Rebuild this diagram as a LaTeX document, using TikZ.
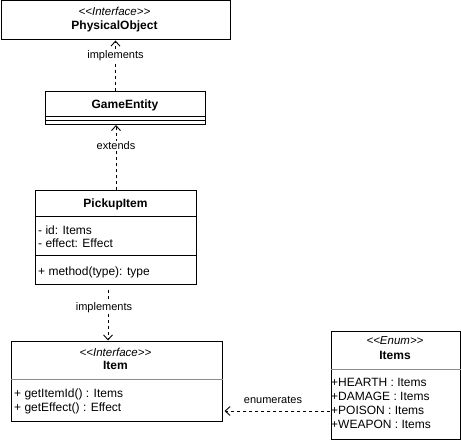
\documentclass[tikz,border=0pt]{standalone}
\usepackage{fontspec}
\setmainfont{Liberation Sans}
\usetikzlibrary{arrows.meta}
\begin{document}
\begin{tikzpicture}[x=1pt,y=-1pt,
  box/.style={draw, line width=1pt, inner sep=0pt, anchor=north west, fill=white},
  sep/.style={line width=1pt},
  gsep/.style={line width=0.8pt, draw=black!45},
  ttl/.style={font=\bfseries\fontsize{12}{14}\selectfont, anchor=base},
  stereo/.style={font=\itshape\fontsize{11.5}{14}\selectfont, anchor=base},
  mem/.style={font=\fontsize{12}{14}\selectfont, anchor=base west, inner sep=0pt},
  lbl/.style={font=\fontsize{11}{13}\selectfont, fill=white, inner sep=1pt},
  dep/.style={line width=0.8pt, dash pattern=on 3pt off 3pt, -{Straight Barb[length=5pt,width=9pt,line width=0.9pt]}}
]
\useasboundingbox (0,0) rectangle (461,441);

% PhysicalObject
\node[box, minimum width=229pt, minimum height=39pt] (phys) at (0.5,0.5) {};
\node[stereo] (physst) at (114.5,16) {<\kern0pt<Interface>\kern0pt>};
\node[ttl] (physn) at (114.5,29.5) {PhysicalObject};

% GameEntity
\node[box, minimum width=160pt, minimum height=33pt] (ge) at (45,91) {};
\node[ttl] (gen) at (125,108.5) {GameEntity};
\draw[sep] (ge.west |- 0,116.5) -- (ge.east |- 0,116.5);
\draw[sep] (ge.west |- 0,120.5) -- (ge.east |- 0,120.5);

% PickupItem
\node[box, minimum width=161pt, minimum height=94pt] (pick) at (35,190) {};
\node[ttl] (pickn) at (115.5,207.5) {PickupItem};
\draw[sep] (pick.west |- 0,217) -- (pick.east |- 0,217);
\node[mem] (pa1) at (38,234) {- id: Items};
\node[mem] (pa2) at (38,247.5) {- effect: Effect};
\draw[sep] (pick.west |- 0,255) -- (pick.east |- 0,255);
\node[mem] (pm1) at (38,276) {+ method(type): type};

% Item
\node[box, minimum width=211pt, minimum height=80pt] (item) at (10.5,340.5) {};
\node[stereo] (itemst) at (115.5,356) {<\kern0pt<Interface>\kern0pt>};
\node[ttl] (itemn) at (115.5,369.5) {Item};
\draw[gsep] (item.west |- 0,379.5) -- (item.east |- 0,379.5);
\node[mem] (im1) at (14,397) {+ getItemId() : Items};
\node[mem] (im2) at (14,411) {+ getEffect() : Effect};

% Items enum
\node[box, minimum width=129pt, minimum height=108pt] (items) at (330.5,330.5) {};
\node[stereo] (itemsst) at (395,344.5) {<\kern0pt<Enum>\kern0pt>};
\node[ttl] (itemsn) at (395,359) {Items};
\draw[gsep] (items.west |- 0,369.5) -- (items.east |- 0,369.5);
\node[mem] (e1) at (331,386.5) {+HEARTH : Items};
\node[mem] (e2) at (331,400.5) {+DAMAGE : Items};
\node[mem] (e3) at (331,414.5) {+POISON : Items};
\node[mem] (e4) at (331,428.5) {+WEAPON : Items};

% connectors
\draw[dep] (ge.north -| phys.south) -- node[lbl, pos=0.69] (l1) {implements} (phys.south);
\draw[dep] (pick.north) -- node[lbl, pos=0.68] (l2) {extends} (ge.south -| pick.north);
\coordinate (i2s) at (108,290);
\draw[dep] (i2s) -- node[lbl, pos=0.34, xshift=-4pt] (l3) {implements} (i2s |- item.north);
\coordinate (ens) at (330,411);
\draw[dep, shorten >=2pt] (ens) -- (ens -| item.east);
\node[lbl, fill=none] (l4) at (273,400) {enumerates};
\end{tikzpicture}
\end{document}
